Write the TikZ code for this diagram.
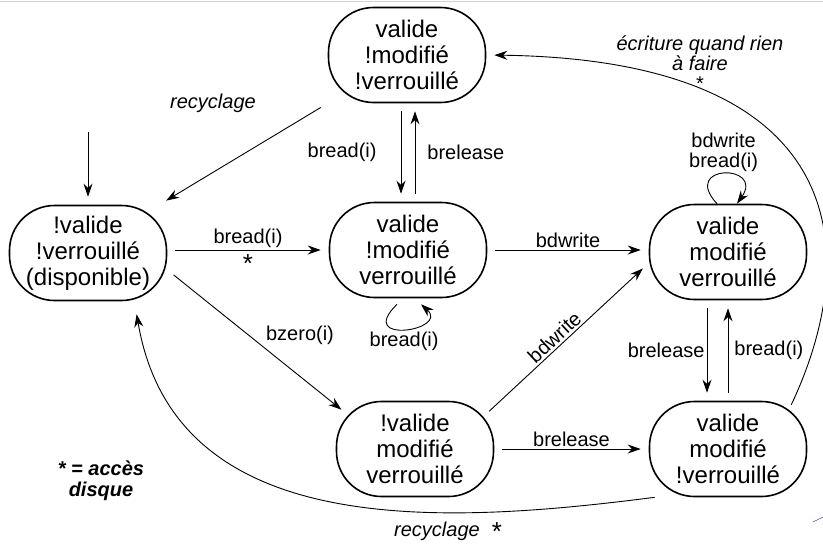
\documentclass[tikz,border=0pt]{standalone}
\usepackage{fontspec}
\setmainfont{Liberation Sans}
\usetikzlibrary{arrows.meta}

\begin{document}
\begin{tikzpicture}[x=1pt,y=-1pt,
		etat/.style={draw,line width=1.6pt,rounded corners=45pt,minimum width=157pt,minimum height=95pt,inner sep=0pt,align=center,font=\fontsize{24}{26}\selectfont},
		lbl/.style={inner sep=2pt,align=center,font=\fontsize{20}{20}\selectfont},
		etoile/.style={inner sep=1pt,font=\fontsize{26}{26}\selectfont},
		>={Stealth[length=13pt,width=9pt]},
		trans/.style={->,line width=0.9pt,shorten >=8pt,shorten <=8pt},
		boucle/.style={->,line width=0.9pt}]
		\useasboundingbox (0,0) rectangle (823,544);
		\draw[gray!35] (0,1) -- (823,1);
		\draw[blue!80!black] (813,522) -- (823,517);
		% etats
		\node[etat] (A) at (407,55) {valide\\!modifié\\!verrouillé};
		\node[etat] (B) at (88,253) {!valide\\!verrouillé\\(disponible)};
		\node[etat] (C) at (408,250) {valide\\!modifié\\verrouillé};
		\node[etat] (D) at (728,252) {valide\\modifié\\verrouillé};
		\node[etat] (E) at (415,449) {!valide\\modifié\\verrouillé};
		\node[etat] (F) at (728,449) {valide\\modifié\\!verrouillé};
		% transitions
		\coordinate (init) at (88,124);
		\draw[trans] (init) -- (B.north);
		\draw[trans] (A.south west) -- ([xshift=-8pt]B.north east);
		\node[lbl] (rec1) at (213,103) {\itshape recyclage};
		\draw[trans] (B.east |- C.west) -- node[lbl,above] {bread(i)} node[etoile,below=3pt] {*} (C.west);
		\draw[trans] ([xshift=-6pt]A.south) -- node[lbl,left=22pt] {bread(i)} ([xshift=-7pt]C.north);
		\draw[trans] ([xshift=7pt]C.north) -- node[lbl,right=10pt] {brelease} ([xshift=8pt]A.south);
		\draw[trans] (C.east) -- node[lbl,above] {bdwrite} (D.west |- C.east);
		\draw[boucle] ([xshift=-11pt,yshift=-6pt]C.south) .. controls +(-42,41) and +(29,26) .. node[lbl,below] {bread(i)} ([xshift=13pt,yshift=-6pt]C.south);
		\draw[trans] (B.-12) -- ([xshift=12pt,yshift=-14pt]E.north west);
		\node[lbl] (bz) at (300,335) {bzero(i)};
		\draw[trans] ([xshift=-11pt,yshift=-16pt]E.north east) -- node[lbl,sloped,above,pos=.47] {bdwrite} ([yshift=-11pt]D.west);
		\draw[trans] (E.east) -- node[lbl,above] {brelease} (F.west);
		\draw[trans] ([xshift=-21pt]D.south) -- node[lbl,left] {brelease} ([xshift=-21pt]F.north);
		\draw[trans] (F.north) -- node[lbl,right=4pt] {bread(i)} (D.south);
		\draw[boucle] ([xshift=-11pt]D.north) .. controls +(-37,-40) and +(28,-40) .. node[lbl,above] {bdwrite\\bread(i)} ([xshift=9pt]D.north);
		\draw[trans,shorten <=0pt] ([xshift=-16pt,yshift=-4pt]F.north east) .. controls (862,255) and (855,60) .. (A.east);
		\node[lbl] (ecr) at (700,63) {\itshape écriture quand rien\\\itshape à faire\\*};
		\draw[trans,shorten <=0pt] ([xshift=6pt]F.south west) .. controls (440,525) and (175,540) .. ([xshift=-32pt,yshift=-5pt]B.south east);
		\node[lbl] (rec2) at (437,531) {\itshape recyclage};
		\node[etoile] (rec2e) at (497,532) {\raisebox{-8pt}[0pt][0pt]{*}};
		% legende
		\node[lbl,font=\fontsize{20}{21}\selectfont\bfseries\itshape] (leg) at (101,481) {* = accès\\disque};
	\end{tikzpicture}
\end{document}
